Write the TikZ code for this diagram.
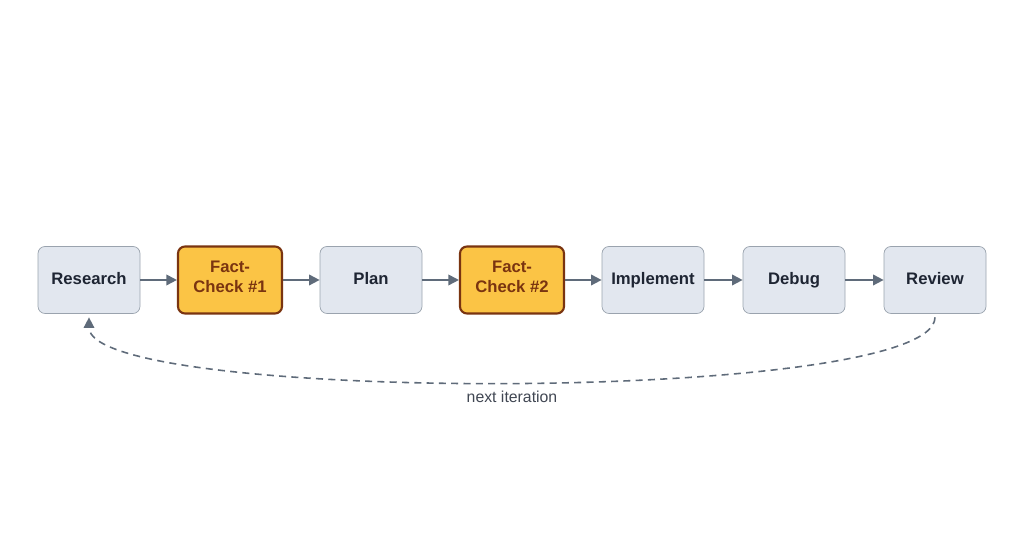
\documentclass[tikz,border=0pt]{standalone}
\usepackage{fontspec}
\setmainfont{Liberation Sans}
\usetikzlibrary{arrows.meta}
\usetikzlibrary{positioning}
\definecolor{stepfill}{HTML}{E2E7EF}
\definecolor{stepline}{HTML}{9AA3AE}
\definecolor{checkfill}{HTML}{FBC445}
\definecolor{checkline}{HTML}{7A3410}
\definecolor{checktext}{HTML}{7A3410}
\definecolor{arrowcol}{HTML}{5F6B7A}
\definecolor{textcol}{HTML}{1E2533}
\begin{document}
\begin{tikzpicture}[stage/.style = {draw=stepline, fill=stepfill, rounded corners=4pt, minimum width=2.04cm, minimum height=1.34cm, align=center, font=\fontsize{9.5}{11.5}\selectfont\bfseries\strut, text=textcol},
	check/.style = {stage, draw=checkline, line width=1.2pt, fill=checkfill, minimum width=2.08cm, minimum height=1.34cm, text=checktext},
	link/.style = {draw=arrowcol, line width=1pt, -{Triangle[length=6pt,width=6pt]}}]
				\useasboundingbox (0,0) rectangle (20.48,11.18);
				\node[stage] (research) at (1.78,5.58) {Research};
				\node[check] (fc1) at (4.6,5.58) {Fact-\\Check \#1};
				\node[stage] (plan) at (7.42,5.58) {Plan};
				\node[check] (fc2) at (10.24,5.58) {Fact-\\Check \#2};
				\node[stage] (implement) at (13.06,5.58) {Implement};
				\node[stage] (debug) at (15.88,5.58) {Debug};
				\node[stage] (review) at (18.7,5.58) {Review};
				\draw [link] (research) -- (fc1);
				\draw [link] (fc1) -- (plan);
				\draw [link] (plan) -- (fc2);
				\draw [link] (fc2) -- (implement);
				\draw [link] (implement) -- (debug);
				\draw [link] (debug) -- (review);
				\draw [link, dash pattern=on 4pt off 3pt, line width=0.9pt] ([yshift=-2pt]review.south) .. controls (18.7,3.1) and (1.78,3.1) .. ([yshift=-2pt]research.south);
				\node[font=\fontsize{9}{11}\selectfont, text=textcol!85] (label) at (10.24,3.24) {next iteration};
			\end{tikzpicture}
\end{document}
